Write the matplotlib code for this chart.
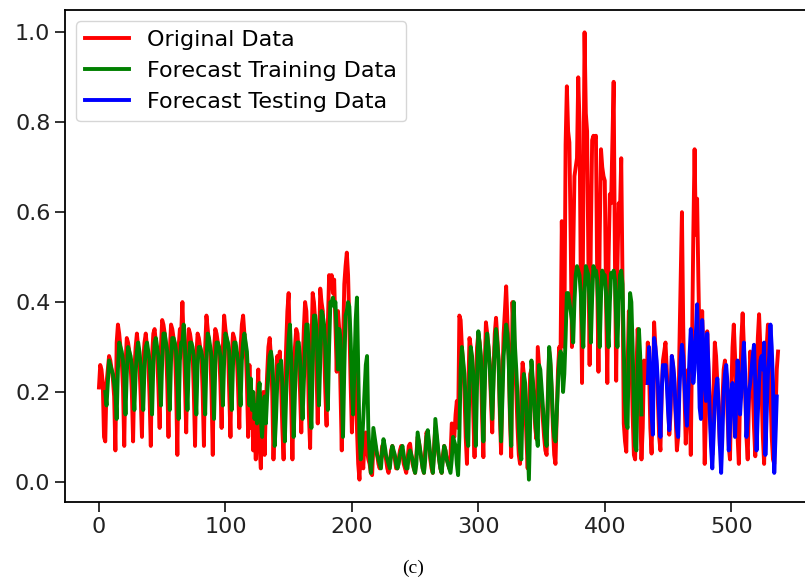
import matplotlib
matplotlib.use("Agg")
import matplotlib.pyplot as plt
import numpy as np

# original series (scaled 0..1), one value per day
original = [
    0.21, 0.26, 0.25, 0.22, 0.10, 0.09, 0.22,
    0.25, 0.28, 0.27, 0.25, 0.23, 0.19, 0.07,
    0.31, 0.35, 0.33, 0.30, 0.27, 0.21, 0.08,
    0.26, 0.32, 0.31, 0.29, 0.26, 0.20, 0.09,
    0.25, 0.30, 0.33, 0.30, 0.26, 0.19, 0.10,
    0.27, 0.31, 0.33, 0.30, 0.27, 0.19, 0.08,
    0.28, 0.33, 0.34, 0.31, 0.28, 0.21, 0.12,
    0.30, 0.36, 0.35, 0.33, 0.30, 0.22, 0.10,
    0.29, 0.35, 0.34, 0.32, 0.30, 0.21, 0.06,
    0.30, 0.34, 0.33, 0.40, 0.31, 0.22, 0.11,
    0.29, 0.34, 0.33, 0.31, 0.29, 0.20, 0.08,
    0.28, 0.33, 0.32, 0.30, 0.28, 0.20, 0.08,
    0.30, 0.37, 0.34, 0.31, 0.29, 0.20, 0.06,
    0.29, 0.34, 0.33, 0.31, 0.29, 0.22, 0.12,
    0.30, 0.37, 0.34, 0.32, 0.30, 0.20, 0.10,
    0.28, 0.33, 0.32, 0.30, 0.28, 0.21, 0.12,
    0.30, 0.35, 0.37, 0.33, 0.30, 0.22, 0.10,
    0.26, 0.12, 0.20, 0.07, 0.15, 0.05, 0.18,
    0.25, 0.08, 0.03, 0.14, 0.20, 0.06, 0.17,
    0.24, 0.30, 0.32, 0.28, 0.20, 0.05, 0.15,
    0.22, 0.28, 0.26, 0.29, 0.22, 0.12, 0.05,
    0.20, 0.30, 0.38, 0.42, 0.30, 0.18, 0.05,
    0.20, 0.30, 0.34, 0.33, 0.28, 0.20, 0.11,
    0.25, 0.34, 0.40, 0.38, 0.30, 0.15, 0.075,
    0.30, 0.42, 0.40, 0.36, 0.25, 0.13, 0.30,
    0.43, 0.40, 0.38, 0.30, 0.20, 0.125, 0.35,
    0.46, 0.44, 0.46, 0.42, 0.45, 0.35, 0.245,
    0.38, 0.34, 0.20, 0.07, 0.30, 0.44, 0.48,
    0.51, 0.46, 0.35, 0.22, 0.11, 0.20, 0.28,
    0.22, 0.12, 0.04, 0.005, 0.08, 0.06, 0.03,
    0.09, 0.11, 0.07, 0.05, 0.04, 0.02, 0.015,
    0.08, 0.09, 0.07, 0.06, 0.04, 0.03, 0.05,
    0.08, 0.07, 0.06, 0.05, 0.03, 0.02, 0.04,
    0.07, 0.08, 0.06, 0.05, 0.03, 0.03, 0.05,
    0.07, 0.08, 0.06, 0.04, 0.03, 0.02, 0.05,
    0.08, 0.085, 0.06, 0.04, 0.03, 0.02, 0.06,
    0.10, 0.09, 0.07, 0.05, 0.03, 0.02, 0.07,
    0.11, 0.10, 0.08, 0.05, 0.03, 0.02, 0.08,
    0.12, 0.10, 0.07, 0.05, 0.03, 0.02, 0.06,
    0.08, 0.07, 0.05, 0.04, 0.03, 0.06, 0.13,
    0.12, 0.10, 0.15, 0.18, 0.12, 0.37,
    0.36, 0.30, 0.26, 0.20, 0.10, 0.04, 0.20,
    0.32, 0.30, 0.26, 0.15, 0.055, 0.22, 0.30,
    0.33, 0.31, 0.27, 0.14, 0.055, 0.25, 0.355,
    0.33, 0.30, 0.26, 0.18, 0.11, 0.25, 0.33,
    0.365, 0.32, 0.27, 0.15, 0.063, 0.22, 0.33,
    0.38, 0.435, 0.36, 0.28, 0.14, 0.055, 0.40,
    0.33, 0.27, 0.20, 0.12, 0.06, 0.04, 0.20,
    0.265, 0.24, 0.18, 0.10, 0.03, 0.15, 0.24,
    0.25, 0.22, 0.18, 0.12, 0.095, 0.30, 0.26,
    0.22, 0.18, 0.14, 0.10, 0.07, 0.06, 0.20,
    0.29, 0.26, 0.20, 0.12, 0.06, 0.04, 0.15,
    0.25, 0.30, 0.28,
    0.58, 0.40, 0.30, 0.75, 0.88, 0.78, 0.755,
    0.55, 0.30, 0.50, 0.68, 0.70, 0.72, 0.90,
    0.80, 0.45, 0.22, 0.60, 1.00, 0.82, 0.78,
    0.50, 0.26, 0.55, 0.76, 0.77, 0.76, 0.77,
    0.45, 0.245, 0.55, 0.74, 0.70, 0.68, 0.67,
    0.40, 0.22, 0.50, 0.64, 0.62, 0.75, 0.89,
    0.50, 0.225, 0.48, 0.62, 0.60, 0.72, 0.45,
    0.13, 0.09, 0.067, 0.25, 0.38, 0.35, 0.28,
    0.15, 0.06, 0.05, 0.25, 0.34, 0.28, 0.15,
    0.05, 0.12, 0.27, 0.25, 0.22, 0.31,
    0.25, 0.12, 0.063, 0.20, 0.355, 0.30, 0.25,
    0.18, 0.10, 0.07, 0.20, 0.27, 0.29, 0.31,
    0.25, 0.18, 0.105, 0.15, 0.28, 0.26, 0.22,
    0.15, 0.07, 0.10, 0.30, 0.45, 0.60, 0.35,
    0.20, 0.085, 0.15, 0.25, 0.20, 0.06, 0.30,
    0.55, 0.74, 0.55, 0.63, 0.45, 0.30, 0.20,
    0.38, 0.25, 0.04, 0.15, 0.335, 0.25, 0.18,
    0.10, 0.06, 0.20, 0.31, 0.28, 0.22, 0.15,
    0.08, 0.075, 0.18, 0.25, 0.27, 0.24, 0.15,
    0.08, 0.05, 0.20, 0.30, 0.35, 0.28, 0.18,
    0.10, 0.04, 0.20, 0.32, 0.375, 0.30, 0.20,
    0.10, 0.05, 0.18, 0.29, 0.26, 0.20, 0.12,
    0.057, 0.20, 0.32, 0.373, 0.30, 0.20, 0.10,
    0.04, 0.18, 0.30, 0.35, 0.30, 0.20, 0.10,
    0.05, 0.04, 0.15, 0.25, 0.29,
]

train_start = 5
train_pred = [
    0.20, 0.17,
    0.22, 0.27, 0.26, 0.25, 0.24, 0.22, 0.20,
    0.14, 0.25, 0.31, 0.30, 0.29, 0.27, 0.23,
    0.15, 0.24, 0.30, 0.29, 0.28, 0.26, 0.22,
    0.16, 0.24, 0.29, 0.31, 0.29, 0.26, 0.22,
    0.16, 0.25, 0.30, 0.31, 0.29, 0.27, 0.22,
    0.15, 0.26, 0.31, 0.32, 0.30, 0.28, 0.23,
    0.17, 0.27, 0.33, 0.33, 0.31, 0.29, 0.23,
    0.16, 0.27, 0.32, 0.32, 0.31, 0.29, 0.23,
    0.14, 0.27, 0.31, 0.31, 0.35, 0.30, 0.23,
    0.16, 0.26, 0.31, 0.31, 0.30, 0.28, 0.22,
    0.15, 0.26, 0.30, 0.30, 0.29, 0.27, 0.22,
    0.15, 0.27, 0.33, 0.32, 0.30, 0.28, 0.22,
    0.14, 0.26, 0.31, 0.31, 0.30, 0.28, 0.23,
    0.17, 0.27, 0.33, 0.32, 0.31, 0.29, 0.22,
    0.16, 0.26, 0.31, 0.31, 0.29, 0.27, 0.23,
    0.17, 0.27, 0.31, 0.33, 0.31, 0.29, 0.23,
    0.17, 0.23, 0.16, 0.20, 0.14, 0.17, 0.13,
    0.19, 0.22, 0.14, 0.10, 0.16, 0.19, 0.13,
    0.19, 0.24, 0.28, 0.29, 0.27, 0.21, 0.08,
    0.14, 0.22, 0.26, 0.25, 0.27, 0.22, 0.15,
    0.09, 0.19, 0.26, 0.32, 0.35, 0.28, 0.20,
    0.10, 0.20, 0.27, 0.31, 0.31, 0.27, 0.21,
    0.14, 0.22, 0.30, 0.35, 0.35, 0.29, 0.18,
    0.12, 0.26, 0.37, 0.37, 0.34, 0.26, 0.17,
    0.27, 0.38, 0.37, 0.35, 0.30, 0.22, 0.16,
    0.30, 0.40, 0.40, 0.41, 0.39, 0.40, 0.33,
    0.25, 0.34, 0.32, 0.22, 0.10, 0.25, 0.37,
    0.38, 0.40, 0.39, 0.32, 0.22, 0.15, 0.25,
    0.36, 0.41, 0.25, 0.10, 0.05, 0.08, 0.14,
    0.20, 0.26, 0.28, 0.12, 0.06, 0.02, 0.05,
    0.12, 0.10, 0.08, 0.06, 0.05, 0.04, 0.03,
    0.07, 0.095, 0.08, 0.06, 0.05, 0.04, 0.03,
    0.06, 0.08, 0.07, 0.06, 0.04, 0.03, 0.04,
    0.06, 0.07, 0.08, 0.06, 0.04, 0.03, 0.03,
    0.06, 0.07, 0.06, 0.05, 0.03, 0.02, 0.04,
    0.11, 0.09, 0.07, 0.05, 0.03, 0.02, 0.05,
    0.10, 0.115, 0.09, 0.06, 0.04, 0.02, 0.06,
    0.14, 0.11, 0.08, 0.05, 0.03, 0.02, 0.05,
    0.08, 0.07, 0.05, 0.04, 0.03, 0.02, 0.05,
    0.10, 0.09, 0.08, 0.04, 0.015, 0.10, 0.25,
    0.30, 0.27, 0.24, 0.18, 0.10, 0.08, 0.22,
    0.30, 0.28, 0.24, 0.15, 0.08, 0.22, 0.335,
    0.31, 0.28, 0.20, 0.09, 0.20, 0.30, 0.33,
    0.30, 0.26, 0.20, 0.14, 0.22, 0.30, 0.34,
    0.31, 0.27, 0.17, 0.09, 0.18, 0.28, 0.32,
    0.35, 0.33, 0.27, 0.16, 0.08, 0.30, 0.40,
    0.30, 0.25, 0.19, 0.12, 0.07, 0.05, 0.18,
    0.24, 0.22, 0.16, 0.08, 0.005, 0.14, 0.27,
    0.23, 0.19, 0.14, 0.11, 0.08, 0.26, 0.25,
    0.21, 0.17, 0.13, 0.10, 0.08, 0.18, 0.30,
    0.27, 0.21, 0.14, 0.10, 0.09, 0.15, 0.22,
    0.27, 0.29, 0.28, 0.20, 0.24, 0.32, 0.42,
    0.42, 0.40, 0.38, 0.36, 0.31, 0.40, 0.46,
    0.48, 0.47, 0.46, 0.42, 0.35, 0.30, 0.42,
    0.48, 0.47, 0.46, 0.40, 0.31, 0.41, 0.48,
    0.47, 0.47, 0.45, 0.38, 0.30, 0.41, 0.47,
    0.46, 0.46, 0.42, 0.35, 0.30, 0.40, 0.465,
    0.46, 0.47, 0.45, 0.36, 0.30, 0.40, 0.46,
    0.47, 0.44, 0.30, 0.18, 0.13, 0.12, 0.30,
    0.42, 0.40, 0.30, 0.17, 0.08, 0.07, 0.25,
    0.34, 0.28, 0.15,
]

test_start = 434
test_pred = [
    0.22, 0.30, 0.25, 0.15, 0.105, 0.32, 0.30,
    0.27, 0.22, 0.15, 0.10, 0.20, 0.26, 0.25,
    0.26, 0.22, 0.16, 0.115, 0.18, 0.28, 0.26,
    0.23, 0.16, 0.12, 0.10, 0.20, 0.27, 0.305,
    0.28, 0.22, 0.16, 0.125, 0.20, 0.28, 0.34,
    0.30, 0.22, 0.25, 0.33, 0.395, 0.30, 0.165,
    0.14, 0.36, 0.30, 0.22, 0.18, 0.33, 0.25,
    0.15, 0.08, 0.03, 0.10, 0.18, 0.21, 0.23,
    0.17, 0.08, 0.02, 0.10, 0.20, 0.24, 0.26,
    0.22, 0.07, 0.12, 0.20, 0.22, 0.18, 0.10,
    0.18, 0.27, 0.22, 0.15, 0.20, 0.26, 0.31,
    0.24, 0.10, 0.14, 0.20, 0.22, 0.25, 0.28,
    0.305, 0.22, 0.07, 0.15, 0.22, 0.27, 0.28,
    0.25, 0.31, 0.06, 0.15, 0.24, 0.28, 0.35,
    0.30, 0.22, 0.02, 0.10, 0.19,
]

x_orig = np.arange(len(original))
x_train = np.arange(train_start, train_start + len(train_pred))
x_test = np.arange(test_start, test_start + len(test_pred))

fig = plt.figure(figsize=(8.05, 5.8), dpi=100)
# right spine falls just outside the picture, as in the reference crop
ax = fig.add_axes([65 / 805, 78 / 580, 747 / 805, 492 / 580])

lw = 2.8
ax.plot(x_orig, original, color="red", linewidth=lw, label="Original Data")
ax.plot(x_train, train_pred, color="green", linewidth=lw, label="Forecast Training Data")
ax.plot(x_test, test_pred, color="blue", linewidth=lw, label="Forecast Testing Data")

ax.set_xticks([0, 100, 200, 300, 400, 500])
ax.set_yticks([0.0, 0.2, 0.4, 0.6, 0.8, 1.0])
ax.tick_params(labelsize=16, length=7, width=1.3, colors="#222222")
for side in ax.spines.values():
    side.set_linewidth(1.3)
ax.legend(loc="upper left", fontsize=16, handlelength=2.0, borderaxespad=0.5)

fig.text(0.513, 0.006, "(c)", ha="center", va="bottom",
         family="Liberation Serif", fontsize=14)

fig.savefig("out.png", dpi=100)
plt.close(fig)
